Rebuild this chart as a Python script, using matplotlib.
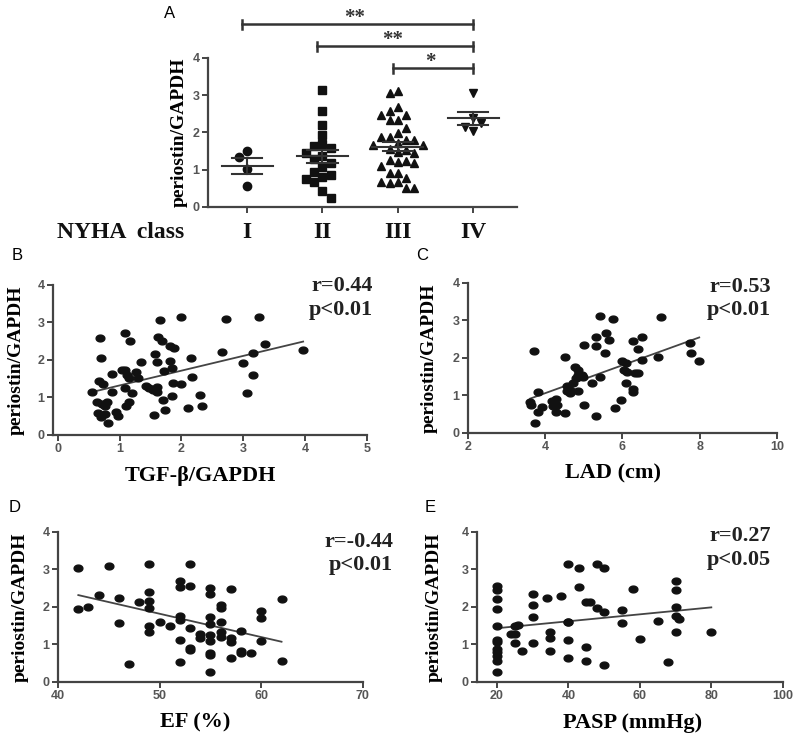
import numpy as np
import matplotlib
matplotlib.use('Agg')
import matplotlib.pyplot as plt
from matplotlib.path import Path

# ---- panel A: periostin/GAPDH by NYHA class ----
nyha_labels = ['I', 'II', 'III', 'IV']
class_I = [1.50, 1.35, 1.02, 0.55]
class_II = [3.14, 2.57, 2.20, 1.93, 1.68, 1.65, 1.58, 1.45, 1.37, 1.30,
            1.17, 1.08, 0.95, 0.86, 0.80, 0.75, 0.68, 0.43, 0.24]
class_III = [3.05, 3.12, 2.58, 2.69, 2.47, 2.47, 2.34, 2.34, 2.11, 1.98,
             1.89, 1.89, 1.80, 1.80, 1.71, 1.66, 1.66, 1.56, 1.53, 1.47,
             1.44, 1.26, 1.22, 1.24, 1.17, 1.11, 0.90, 0.90, 0.77, 0.68,
             0.66, 0.64, 0.50, 0.51]
class_IV = [3.05, 2.40, 2.25, 2.16, 2.05]
sig_pairs = [(1, 4, '**'), (2, 4, '**'), (3, 4, '*')]

# ---- panel B: TGF-beta ----
tgf_x = [0.56, 0.68, 0.70, 0.66, 0.74, 0.63, 0.72, 0.79, 0.77, 0.65, 0.70, 0.77,
         0.82, 0.87, 0.88, 0.94, 0.97, 1.08, 1.17, 1.04, 1.08, 1.12, 1.16, 1.08,
         1.20, 1.15, 1.10, 1.27, 1.30, 1.34, 1.42, 1.47, 1.54, 1.61, 1.61, 1.55,
         1.58, 1.60, 1.62, 1.69, 1.66, 1.72, 1.70, 1.74, 1.81, 1.88, 1.81, 1.85,
         1.86, 1.99, 1.85, 1.99, 2.15, 2.17, 2.11, 2.30, 2.34, 2.65, 2.72, 2.99,
         3.06, 3.16, 3.16, 3.26, 3.36, 3.97]
tgf_y = [1.14, 2.58, 2.06, 1.44, 1.36, 0.87, 0.82, 0.87, 0.76, 0.58, 0.49, 0.55,
         0.31, 1.62, 1.15, 0.61, 0.51, 2.71, 2.51, 1.73, 1.73, 1.60, 1.51, 1.24,
         1.11, 0.89, 0.78, 1.67, 1.53, 1.95, 1.31, 1.26, 1.20, 1.29, 1.15, 0.53,
         2.15, 1.94, 2.60, 2.51, 3.07, 1.71, 0.93, 0.67, 2.36, 2.33, 1.97, 1.79,
         1.38, 1.35, 1.05, 3.15, 2.04, 1.55, 0.73, 1.07, 0.77, 2.22, 3.09, 1.91,
         1.11, 2.18, 1.60, 3.15, 2.42, 2.27]

# ---- panel C: LAD ----
lad_x = [3.71, 3.61, 3.62, 3.82, 3.91, 3.82, 3.74, 4.17, 4.28, 4.21, 4.31, 4.28,
         4.51, 4.51, 4.56, 4.56, 4.63, 4.73, 4.64, 4.77, 4.86, 4.80, 4.86, 4.95,
         4.99, 4.86, 5.01, 5.01, 5.20, 5.32, 5.32, 5.42, 5.32, 5.42, 5.58, 5.64,
         5.55, 5.75, 5.81, 5.96, 5.98, 6.09, 6.04, 6.11, 6.09, 6.28, 6.50, 6.41,
         6.33, 6.41, 6.28, 6.28, 6.50, 6.91, 6.99, 7.75, 7.79, 7.99]
lad_y = [2.19, 0.83, 0.75, 1.10, 0.70, 0.57, 0.27, 0.86, 0.90, 0.72, 0.75, 0.57,
         0.52, 2.03, 1.25, 1.13, 1.15, 1.32, 1.06, 1.77, 1.68, 1.46, 1.55, 1.55,
         1.50, 1.13, 0.75, 2.35, 1.34, 2.57, 2.32, 3.12, 0.44, 1.48, 2.67, 2.48,
         2.12, 3.03, 0.66, 0.88, 1.93, 1.87, 1.68, 1.63, 1.33, 2.46, 2.55, 2.23,
         1.59, 1.60, 1.17, 1.09, 1.95, 2.02, 3.09, 2.39, 2.14, 1.93]

# ---- panel D: EF ----
ef_x = [42, 42, 43, 44, 45, 46, 46, 47, 48, 49, 49, 49, 49, 49, 49, 50, 51, 52,
        52, 53, 53, 52, 52, 52, 52, 53, 53, 53, 54, 54, 55, 55, 55, 55, 55, 55,
        55, 55, 55, 56, 56, 56, 56, 56, 57, 57, 57, 57, 58, 58, 58, 59, 60, 60,
        60, 62, 62]
ef_y = [3.05, 1.95, 2.01, 2.32, 3.08, 2.25, 1.57, 0.47, 2.13, 3.14, 2.41, 2.17,
        1.96, 1.50, 1.34, 1.59, 1.50, 2.69, 2.54, 2.57, 3.14, 1.77, 1.65, 1.12,
        0.54, 1.45, 0.90, 0.85, 1.27, 1.16, 2.51, 2.35, 1.74, 1.54, 1.25, 1.08,
        0.76, 0.72, 0.27, 2.05, 1.96, 1.59, 1.32, 1.21, 2.48, 1.16, 1.07, 0.65,
        1.36, 0.83, 0.76, 0.76, 1.89, 1.70, 1.09, 2.21, 0.56]

# ---- panel E: PASP ----
pasp_x = [20, 20, 20, 20, 20, 20, 20, 20, 20, 20, 20, 20,
          24, 25, 25, 26, 25, 27, 30, 30, 30, 30, 34, 35, 35, 35, 38, 40, 40,
          40, 40, 40, 43, 43, 45, 46, 45, 45, 48, 50, 48, 50, 50, 55, 55, 58,
          60, 65, 68, 70, 70, 70, 70, 71, 70, 80]
pasp_y = [2.57, 2.45, 2.21, 1.95, 1.50, 1.12, 1.06, 0.88, 0.79, 0.68, 0.56, 0.27,
          1.27, 1.27, 1.48, 1.52, 1.03, 0.83, 2.34, 2.04, 1.72, 1.03, 2.23, 1.34,
          1.18, 0.83, 2.30, 1.59, 1.59, 3.14, 1.12, 0.65, 3.03, 2.54, 2.14, 2.12,
          0.92, 0.56, 3.14, 3.05, 1.96, 1.87, 0.45, 1.92, 1.56, 2.48, 1.15, 1.63,
          0.53, 2.69, 2.45, 2.01, 1.77, 1.68, 1.33, 1.34]

AX_COL = '#444444'
TICK_COL = '#555555'
SERIF = 'Liberation Serif'
SANS = 'Liberation Sans'

# slightly flattened dot, like the scanned figure
t = np.linspace(0, 2 * np.pi, 41)
ellipse = Path(np.column_stack([np.cos(t), 0.78 * np.sin(t)]), closed=True)

fig = plt.figure(figsize=(8, 7.36), dpi=100)


def style_axes(ax):
    for s in ['top', 'right']:
        ax.spines[s].set_visible(False)
    for s in ['left', 'bottom']:
        ax.spines[s].set_color(AX_COL)
        ax.spines[s].set_linewidth(1.6)
    ax.tick_params(direction='out', length=4, width=1.4, color=AX_COL,
                   labelcolor=TICK_COL, labelsize=9, pad=2)
    for lab in ax.get_xticklabels() + ax.get_yticklabels():
        lab.set_family(SANS)
        lab.set_fontweight('bold')


def swarm(vals, xc, step=0.11, ygap=0.24):
    # simple beeswarm: spread points that would overlap
    order = np.argsort(vals)[::-1]
    xs = np.zeros(len(vals))
    placed = []
    for i in order:
        v = vals[i]
        k = 0
        while True:
            cands = [0.0] if k == 0 else [k * step, -k * step]
            if k > 0 and len(placed) % 2:
                cands = cands[::-1]
            ok = None
            for c in cands:
                if all(abs(c - px) >= step * 0.95 or abs(v - py) >= ygap for px, py in placed):
                    ok = c
                    break
            if ok is not None:
                break
            k += 1
        placed.append((ok, v))
        xs[i] = xc + ok
    return xs


# ---------------- panel A ----------------
axA = fig.add_axes([0.26, 0.7188, 0.386, 0.2024])
groups = [class_I, class_II, class_III, class_IV]
markers = ['o', 's', '^', 'v']
for i, (vals, mk) in enumerate(zip(groups, markers)):
    vals = np.array(vals)
    xs = swarm(vals, i + 1)
    axA.plot(xs, vals, linestyle='none', marker=mk, markersize=6,
             color='#111111', zorder=3)
    m = vals.mean()
    sem = vals.std(ddof=1) / np.sqrt(len(vals))
    axA.plot([i + 1 - 0.34, i + 1 + 0.34], [m, m], color='#333333', lw=1.5, zorder=4)
    axA.plot([i + 1, i + 1], [m - sem, m + sem], color='#333333', lw=1.5, zorder=4)
    for yy in (m - sem, m + sem):
        axA.plot([i + 1 - 0.2, i + 1 + 0.2], [yy, yy], color='#333333', lw=1.5, zorder=4)

axA.set_xlim(0.48, 4.58)
axA.set_ylim(0, 4)
axA.set_yticks([0, 1, 2, 3, 4])
axA.set_xticks([1, 2, 3, 4])
style_axes(axA)
axA.set_xticklabels(nyha_labels, family=SERIF, fontweight='bold', fontsize=17,
                    color='#111111')
axA.tick_params(axis='x', pad=7)
axA.set_ylabel('periostin/GAPDH', family=SERIF, fontweight='bold', fontsize=14)
axA.yaxis.set_label_coords(-0.065, 0.5)

for k, (a, b, stars) in enumerate(sig_pairs):
    yb = 4.91 - 0.59 * k
    axA.plot([a - 0.07, b], [yb, yb], color='#333333', lw=1.8, clip_on=False)
    for xe in (a - 0.07, b):
        axA.plot([xe, xe], [yb - 0.12, yb + 0.12], color='#333333', lw=1.8,
                 clip_on=False)
    axA.text((a + b) / 2 - 0.07, yb + 0.02, stars, ha='center', va='baseline',
             family=SERIF, fontweight='bold', fontsize=15, color='#333333',
             clip_on=False)

fig.text(57 / 800, 1 - 232 / 736, 'NYHA  class', family=SERIF, fontweight='bold',
         fontsize=17, va='center', ha='left', color='#111111')

# ---------------- scatter panels ----------------
panels = [
    ([0.066, 0.409, 0.3925, 0.2038], tgf_x, tgf_y, (-0.08, 5), [0, 1, 2, 3, 4, 5],
     'TGF-β/GAPDH', 'r=0.44', 'p<0.01', 1.02, 0.47, -0.089),
    ([0.585, 0.4117, 0.386, 0.2038], lad_x, lad_y, (2, 10), [2, 4, 6, 8, 10],
     'LAD (cm)', 'r=0.53', 'p<0.01', 0.98, 0.47, -0.097),
    ([0.0725, 0.0734, 0.381, 0.2038], ef_x, ef_y, (40, 70), [40, 50, 60, 70],
     'EF (%)', 'r=-0.44', 'p<0.01', 1.10, 0.45, -0.095),
    ([0.596, 0.0734, 0.3825, 0.2038], pasp_x, pasp_y, (14.4, 100), [20, 40, 60, 80, 100],
     'PASP (mmHg)', 'r=0.27', 'p<0.05', 0.96, 0.51, -0.11),
]
r_ypos = [(0.99, 0.83), (0.975, 0.82), (0.93, 0.78), (0.97, 0.81)]

for (rect, xv, yv, xlim, xt, xlab, rtxt, ptxt, rx, lx, yx), (ry, py) in zip(panels, r_ypos):
    ax = fig.add_axes(rect)
    xv = np.array(xv, dtype=float)
    yv = np.array(yv, dtype=float)
    ax.plot(xv, yv, linestyle='none', marker=ellipse, markersize=6.3,
            color='#111111', zorder=3)
    k, b0 = np.polyfit(xv, yv, 1)
    xx = np.array([xv.min(), xv.max()])
    ax.plot(xx, k * xx + b0, color='#444444', lw=1.3, zorder=2)
    ax.set_xlim(*xlim)
    ax.set_ylim(0, 4)
    ax.set_xticks(xt)
    ax.set_yticks([0, 1, 2, 3, 4])
    style_axes(ax)
    ax.set_ylabel('periostin/GAPDH', family=SERIF, fontweight='bold', fontsize=14)
    ax.yaxis.set_label_coords(yx, 0.5)
    ax.set_xlabel(xlab, family=SERIF, fontweight='bold', fontsize=16)
    ax.xaxis.set_label_coords(lx, -0.205)
    ax.text(rx, ry, rtxt, transform=ax.transAxes, ha='right', va='center',
            family=SERIF, fontweight='bold', fontsize=16, color='#222222')
    ax.text(rx, py, ptxt, transform=ax.transAxes, ha='right', va='center',
            family=SERIF, fontweight='bold', fontsize=16, color='#222222')

# panel letters
for letter, (px, py) in zip('ABCDE', [(170, 13), (17, 255), (422, 255), (15, 507), (430, 507)]):
    fig.text(px / 800, 1 - py / 736, letter, family=SANS, fontsize=12,
             ha='center', va='center')

plt.savefig('out.png', dpi=100)
